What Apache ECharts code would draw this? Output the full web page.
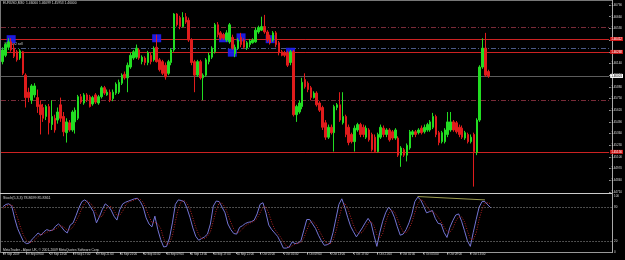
<!DOCTYPE html>
<html><head><meta charset="utf-8">
<script src="https://cdn.jsdelivr.net/npm/echarts@6/dist/echarts.min.js"></script>
<style>html,body{margin:0;padding:0;background:#000;overflow:hidden}#c{width:625px;height:260px}</style>
</head><body><div id="c"></div><script>
// EURUSD M30 bars (29 Sep 05:00 .. 2 Oct)
const opens=[1.4616,1.4623,1.4632,1.4638,1.4631,1.4627,1.4620,1.4627,1.4601,1.4582,
1.4573,1.4579,1.4576,1.4568,1.4565,1.4555,1.4566,1.4546,1.4553,1.4551,
1.4568,1.4555,1.4537,1.4548,1.4540,1.4549,1.4553,1.4577,1.4570,1.4579,
1.4577,1.4569,1.4579,1.4570,1.4577,1.4587,1.4579,1.4582,1.4575,1.4581,
1.4582,1.4592,1.4602,1.4598,1.4610,1.4620,1.4621,1.4629,1.4616,1.4620,
1.4615,1.4623,1.4618,1.4632,1.4618,1.4616,1.4612,1.4603,1.4615,1.4629,
1.4669,1.4665,1.4655,1.4666,1.4662,1.4640,1.4616,1.4601,1.4616,1.4598,
1.4601,1.4616,1.4621,1.4627,1.4657,1.4648,1.4646,1.4640,1.4638,1.4643,
1.4625,1.4631,1.4643,1.4640,1.4631,1.4635,1.4637,1.4638,1.4649,1.4651,
1.4655,1.4649,1.4642,1.4640,1.4648,1.4637,1.4627,1.4626,1.4626,1.4615,
1.4627,1.4557,1.4560,1.4566,1.4596,1.4592,1.4587,1.4576,1.4581,1.4570,
1.4565,1.4548,1.4532,1.4543,1.4537,1.4565,1.4568,1.4548,1.4555,1.4543,
1.4535,1.4527,1.4540,1.4546,1.4543,1.4532,1.4540,1.4535,1.4532,1.4516,
1.4532,1.4542,1.4535,1.4540,1.4538,1.4531,1.4531,1.4512,1.4518,1.4512,
1.4520,1.4535,1.4538,1.4537,1.4542,1.4538,1.4540,1.4540,1.4543,1.4555,
1.4537,1.4527,1.4527,1.4535,1.4540,1.4549,1.4548,1.4543,1.4542,1.4531,
1.4535,1.4527,1.4535,1.4515,1.4551,1.4610,1.4631,1.4605];
const closes=[1.4629,1.4635,1.4638,1.4629,1.4622,1.4618,1.4628,1.4603,1.4576,1.4576,
1.4589,1.4589,1.4566,1.4557,1.4553,1.4566,1.4548,1.4555,1.4540,1.4560,
1.4553,1.4538,1.4549,1.4540,1.4560,1.4562,1.4577,1.4571,1.4579,1.4573,
1.4566,1.4576,1.4571,1.4577,1.4587,1.4581,1.4582,1.4573,1.4582,1.4591,
1.4593,1.4601,1.4598,1.4612,1.4623,1.4627,1.4631,1.4620,1.4621,1.4615,
1.4626,1.4616,1.4631,1.4616,1.4607,1.4603,1.4599,1.4616,1.4629,1.4669,
1.4657,1.4655,1.4665,1.4660,1.4640,1.4615,1.4601,1.4616,1.4598,1.4601,
1.4618,1.4623,1.4631,1.4657,1.4646,1.4642,1.4642,1.4648,1.4657,1.4631,
1.4632,1.4640,1.4635,1.4632,1.4637,1.4639,1.4640,1.4651,1.4654,1.4655,
1.4649,1.4640,1.4637,1.4648,1.4635,1.4626,1.4623,1.4623,1.4612,1.4627,
1.4557,1.4566,1.4570,1.4593,1.4588,1.4585,1.4576,1.4581,1.4568,1.4562,
1.4543,1.4532,1.4543,1.4537,1.4566,1.4568,1.4551,1.4555,1.4535,1.4526,
1.4527,1.4542,1.4546,1.4535,1.4535,1.4542,1.4529,1.4518,1.4516,1.4535,
1.4543,1.4535,1.4540,1.4529,1.4531,1.4540,1.4512,1.4520,1.4512,1.4523,
1.4538,1.4538,1.4535,1.4540,1.4537,1.4543,1.4546,1.4549,1.4555,1.4535,
1.4526,1.4537,1.4540,1.4549,1.4549,1.4540,1.4538,1.4535,1.4532,1.4537,
1.4527,1.4532,1.4516,1.4551,1.4610,1.4631,1.4601,1.4600];
const lows=[1.4613,1.4621,1.4629,1.4627,1.4620,1.4616,1.4618,1.4601,1.4565,1.4571,
1.4569,1.4576,1.4559,1.4535,1.4549,1.4551,1.4535,1.4540,1.4537,1.4547,
1.4549,1.4533,1.4526,1.4538,1.4538,1.4536,1.4551,1.4569,1.4568,1.4571,
1.4565,1.4567,1.4569,1.4568,1.4575,1.4579,1.4578,1.4571,1.4572,1.4579,
1.4580,1.4590,1.4596,1.4582,1.4608,1.4618,1.4619,1.4618,1.4613,1.4612,
1.4612,1.4613,1.4616,1.4615,1.4605,1.4601,1.4596,1.4601,1.4612,1.4627,
1.4655,1.4652,1.4654,1.4658,1.4638,1.4612,1.4582,1.4599,1.4596,1.4573,
1.4599,1.4613,1.4619,1.4625,1.4643,1.4640,1.4640,1.4638,1.4636,1.4629,
1.4621,1.4629,1.4632,1.4630,1.4629,1.4632,1.4636,1.4637,1.4647,1.4650,
1.4647,1.4638,1.4635,1.4638,1.4632,1.4623,1.4622,1.4621,1.4610,1.4612,
1.4555,1.4549,1.4558,1.4563,1.4586,1.4582,1.4573,1.4575,1.4566,1.4560,
1.4540,1.4529,1.4530,1.4535,1.4516,1.4562,1.4549,1.4546,1.4532,1.4523,
1.4525,1.4516,1.4538,1.4532,1.4532,1.4530,1.4527,1.4516,1.4515,1.4515,
1.4530,1.4532,1.4532,1.4527,1.4529,1.4529,1.4510,1.4499,1.4510,1.4505,
1.4518,1.4532,1.4532,1.4535,1.4535,1.4536,1.4538,1.4538,1.4541,1.4532,
1.4523,1.4525,1.4525,1.4532,1.4538,1.4538,1.4536,1.4532,1.4530,1.4529,
1.4525,1.4525,1.4477,1.4512,1.4549,1.4608,1.4599,1.4598];
const highs=[1.4632,1.4637,1.4642,1.4642,1.4636,1.4629,1.4630,1.4628,1.4603,1.4587,
1.4591,1.4592,1.4585,1.4573,1.4569,1.4568,1.4569,1.4573,1.4557,1.4565,
1.4576,1.4560,1.4553,1.4551,1.4562,1.4565,1.4579,1.4580,1.4581,1.4581,
1.4579,1.4578,1.4581,1.4579,1.4589,1.4589,1.4585,1.4585,1.4585,1.4593,
1.4596,1.4603,1.4605,1.4615,1.4626,1.4629,1.4635,1.4631,1.4623,1.4622,
1.4628,1.4626,1.4633,1.4646,1.4620,1.4618,1.4615,1.4618,1.4631,1.4670,
1.4670,1.4667,1.4671,1.4670,1.4665,1.4642,1.4618,1.4618,1.4618,1.4603,
1.4620,1.4626,1.4633,1.4659,1.4660,1.4650,1.4648,1.4651,1.4659,1.4646,
1.4635,1.4642,1.4648,1.4642,1.4639,1.4641,1.4642,1.4654,1.4656,1.4666,
1.4668,1.4651,1.4646,1.4650,1.4650,1.4639,1.4629,1.4628,1.4628,1.4629,
1.4629,1.4568,1.4573,1.4598,1.4603,1.4594,1.4589,1.4583,1.4583,1.4572,
1.4567,1.4551,1.4546,1.4546,1.4568,1.4570,1.4582,1.4582,1.4557,1.4546,
1.4537,1.4545,1.4548,1.4548,1.4546,1.4545,1.4542,1.4537,1.4535,1.4537,
1.4546,1.4545,1.4542,1.4542,1.4540,1.4542,1.4533,1.4522,1.4520,1.4525,
1.4540,1.4540,1.4540,1.4542,1.4545,1.4546,1.4548,1.4551,1.4559,1.4557,
1.4539,1.4539,1.4542,1.4560,1.4560,1.4551,1.4550,1.4546,1.4545,1.4539,
1.4537,1.4535,1.4537,1.4553,1.4612,1.4642,1.4648,1.4607];
// Stochastic(5,3,3)
const stochMain=[81,85,86,82,60,42,30,19,15,16,23,28,34,30,36,40,38,39,46,50,
45,38,34,48,52,65,79,90,93,89,80,72,52,63,76,86,82,75,64,57,
76,86,89,91,93,95,96,90,80,61,50,45,64,40,22,9,10,25,52,85,
93,92,90,78,62,43,28,21,24,27,32,50,82,91,90,80,70,50,40,33,
32,44,47,51,53,54,57,68,85,88,70,48,40,34,28,18,7,7,9,18,
15,16,20,39,58,58,50,42,30,20,12,13,16,35,60,85,95,80,62,46,
36,27,35,43,52,60,52,30,10,35,55,70,80,74,62,45,30,32,40,52,
68,90,98,93,82,70,72,74,60,51,50,35,26,44,56,66,68,55,38,20,
10,35,58,80,90,90,84,79];
const stochSignal=[78,82,84,84,76,61,44,30,21,17,18,22,28,31,33,35,38,39,41,45,
47,44,39,40,45,55,65,78,87,91,87,80,68,62,64,75,81,81,74,65,
66,73,84,89,91,93,95,94,89,77,64,52,53,50,42,24,14,15,29,54,
77,90,92,87,77,61,44,31,24,24,28,36,55,74,88,87,80,67,53,41,
35,36,41,47,50,53,55,60,70,80,81,69,53,41,34,27,18,11,8,11,
14,16,17,25,39,52,55,50,41,31,21,15,14,21,37,60,80,87,79,63,
48,36,33,35,43,52,55,47,31,25,33,53,68,75,72,60,46,36,34,41,
53,70,85,94,91,82,75,72,69,62,54,45,37,35,42,55,63,63,54,38,
23,22,34,58,76,87,88,86];
const trendIdx=[142,165];
const trendVal=[99,93];
// order markers (blue squares)
const markerIdx=[3,53,76,79,82,92,99];
const markerPrice=[1.4641,1.4642,1.4642,1.4626,1.4643,1.4641,1.4627];
// horizontal levels
const levelPrice=[1.46546,1.46412,1.46312,1.46268,1.46001,1.45734,1.45156];
const levelKind=['dd','red','blue','red','bid','dd','red'];
const timeLabels=['29 Sep 2009','29 Sep 09:00','29 Sep 13:00','29 Sep 17:00','29 Sep 21:00','30 Sep 01:00','30 Sep 05:00','30 Sep 09:00','30 Sep 13:00','30 Sep 17:00','30 Sep 21:00','1 Oct 01:00','1 Oct 05:00','1 Oct 09:00','1 Oct 13:00','1 Oct 17:00','1 Oct 21:00','2 Oct 01:00','2 Oct 05:00','2 Oct 09:00','2 Oct 13:00'];
const priceMin=1.4471, priceMax=1.4679, priceStep=0.0013;
const stochTicks=[0,20,80,100];

const SLOTS=209, STEP=8;
const cats=[]; for(let i=0;i<SLOTS;i++) cats.push('b'+i);
const isLab=(i)=> i%STEP===0 && i/STEP<timeLabels.length;
const FONT='Liberation Sans';

const candles=opens.map((o,i)=>[o,closes[i],lows[i],highs[i]]);
const styles={
  dd:{color:'#7a2b38',type:[5,2,1,2]},
  red:{color:'#cc2222',type:'solid'},
  blue:{color:'#4a5a86',type:[5,2,1,2]},
  bid:{color:'#5c5c5c',type:'solid'}
};
const levelData=levelPrice.map((p,i)=>{
  const k=levelKind[i];
  const d={yAxis:p,lineStyle:{color:styles[k].color,type:styles[k].type,width:1}};
  if(k==='red'||k==='bid'){
    d.label={show:true,position:'end',distance:1,formatter:p.toFixed(5),fontSize:3,fontFamily:FONT,
      color:k==='bid'?'#000':'#fff',backgroundColor:k==='bid'?'#fff':'#d01818',padding:[1,1,0,1]};
  } else d.label={show:false};
  return d;
});

const chart=echarts.init(document.getElementById('c'),null,{renderer:'canvas'});
chart.setOption({
  backgroundColor:'#000',
  animation:false,
  grid:[{left:1,right:13,top:5,height:187},{left:1,right:13,top:196,height:56}],
  xAxis:[
    {type:'category',gridIndex:0,data:cats,boundaryGap:true,show:false},
    {type:'category',gridIndex:1,data:cats,boundaryGap:true,
     axisLine:{show:true,lineStyle:{color:'#999',width:1}},
     axisTick:{show:true,interval:(i)=>isLab(i),alignWithLabel:true,length:2,lineStyle:{color:'#aaa'}},
     axisLabel:{interval:(i)=>isLab(i),formatter:(v,i)=>timeLabels[i/STEP]||'',align:'left',
       color:'#ddd',fontSize:2.9,fontFamily:FONT,margin:1},
     splitLine:{show:false}}
  ],
  yAxis:[
    {type:'value',gridIndex:0,position:'right',min:priceMin,max:priceMax,interval:priceStep,
     axisLine:{show:false},axisTick:{show:true,length:1.5,lineStyle:{color:'#aaa'}},
     axisLabel:{color:'#ddd',fontSize:3,fontFamily:FONT,margin:2,formatter:(v)=>v.toFixed(5)},
     splitLine:{show:false}},
    {type:'value',gridIndex:1,position:'right',min:0,max:100,interval:20,
     axisLine:{show:false},axisTick:{show:false},
     axisLabel:{color:'#ddd',fontSize:3,fontFamily:FONT,margin:2,formatter:(v)=>stochTicks.includes(v)?String(v):''},
     splitLine:{show:false}}
  ],
  series:[
    {type:'scatter',xAxisIndex:0,yAxisIndex:0,symbol:'rect',symbolSize:[9,8],
     data:markerIdx.map((x,i)=>[x,markerPrice[i]]),itemStyle:{color:'#1e1ef5',opacity:0.9},z:1,
     markLine:{silent:true,precision:5,symbol:['none','none'],data:levelData,z:1}},
    {type:'candlestick',xAxisIndex:0,yAxisIndex:0,data:candles,barWidth:2,z:3,
     itemStyle:{color:'#22dd22',color0:'#e01c1c',borderColor:'#22dd22',borderColor0:'#e01c1c',borderWidth:1}},
    {type:'line',xAxisIndex:1,yAxisIndex:1,data:stochMain,showSymbol:false,
     lineStyle:{color:'#7474d4',width:1},
     markLine:{silent:true,symbol:['none','none'],label:{show:false},
       lineStyle:{color:'#9a9a9a',type:[1,2],width:1},data:[{yAxis:80},{yAxis:20}]}},
    {type:'line',xAxisIndex:1,yAxisIndex:1,data:stochSignal,showSymbol:false,
     lineStyle:{color:'#b52424',width:1,type:[1,1.5]}},
    {type:'line',xAxisIndex:1,yAxisIndex:1,data:trendIdx.map((x,i)=>[x,trendVal[i]]),showSymbol:false,
     lineStyle:{color:'#9c9c50',width:1}}
  ],
  graphic:[
    {type:'line',shape:{x1:0,y1:0.5,x2:612,y2:0.5},style:{stroke:'#777',lineWidth:1},silent:true},
    {type:'line',shape:{x1:0.5,y1:0,x2:0.5,y2:253},style:{stroke:'#777',lineWidth:1},silent:true},
    {type:'line',shape:{x1:612.5,y1:0,x2:612.5,y2:253},style:{stroke:'#aaa',lineWidth:1},silent:true},
    {type:'line',shape:{x1:0,y1:193.5,x2:612,y2:193.5},style:{stroke:'#ccc',lineWidth:1},silent:true},
    {type:'text',left:3,top:2,style:{text:'EURUSD,M30  1.46060 1.46099 1.45953 1.46000',fill:'#ddd',fontSize:3.3,fontFamily:FONT},silent:true},
    {type:'text',left:4,top:43,style:{text:'#779192 sell',fill:'#ccc',fontSize:3.3,fontFamily:FONT},silent:true},
    {type:'text',left:3,top:196,style:{text:'Stoch(5,3,3) 78.8699 85.8361',fill:'#ddd',fontSize:3.6,fontFamily:FONT},silent:true},
    {type:'text',left:3,top:248.5,style:{text:'MetaTrader - Alpari UK, © 2001-2009 MetaQuotes Software Corp.',fill:'#ddd',fontSize:3.3,fontFamily:FONT},silent:true}
  ]
});
</script></body></html>
